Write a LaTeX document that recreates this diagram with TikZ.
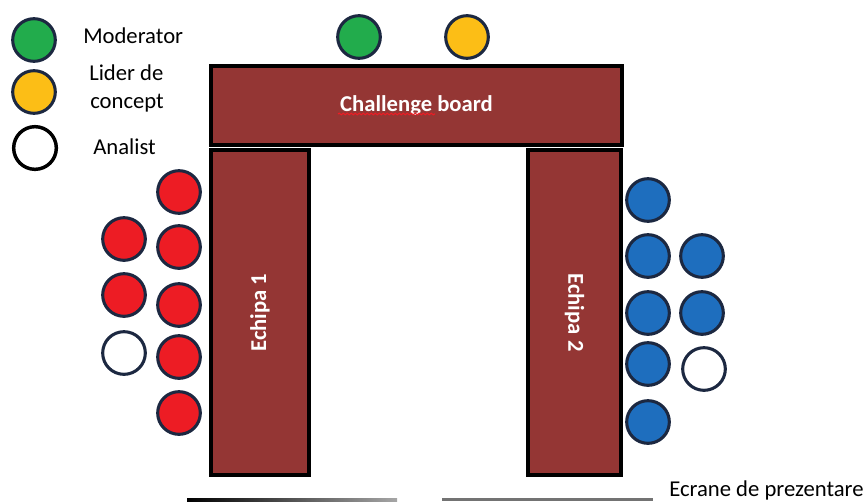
\documentclass[tikz,border=0pt]{standalone}
\usepackage{fontspec}
\setmainfont{Carlito}
\usetikzlibrary{decorations.pathmorphing}
\definecolor{boardred}{RGB}{148,54,52}
\definecolor{seatline}{RGB}{28,40,65}
\definecolor{seatgreen}{RGB}{34,172,76}
\definecolor{seatyellow}{RGB}{252,190,22}
\definecolor{seatred}{RGB}{237,28,36}
\definecolor{seatblue}{RGB}{30,110,190}

\begin{document}
\begin{tikzpicture}[x=0.75pt,y=-0.75pt,
    font=\fontsize{17}{20}\selectfont,
    seat/.style={circle,draw=seatline,line width=2.3pt,minimum size=32pt,inner sep=0pt},
    board/.style={rectangle,draw=black,line width=2.8pt,fill=boardred,inner sep=0pt,
      text=white,font=\fontsize{17}{20}\selectfont\bfseries},
    legendtext/.style={anchor=west,inner sep=0pt}]
        \useasboundingbox (0,0) rectangle (867,503);
        % legenda
        \node[seat,fill=seatgreen] (lmod) at (34,40) {};
        \node[seat,fill=seatyellow] (llid) at (34,92) {};
        \node[seat,draw=black,fill=white,line width=2.6pt] (lan) at (35,148) {};
        \node[legendtext] (tmod) at (83,36) {Moderator};
        \node[legendtext] (tlid1) at (89,73) {Lider de};
        \node[legendtext] (tlid2) at (90,103) {concept};
        \node[legendtext] (tan) at (93,147) {Analist};
        % mesele
        \node[board,minimum width=308.25pt,minimum height=59.25pt] (chboard) at (416.5,105.5) {Challenge board};
        \node[board,minimum width=243.75pt,minimum height=73.5pt,rotate=90] (team1) at (260,312.5) {Echipa 1};
        \node[board,minimum width=243.75pt,minimum height=69.75pt,rotate=-90] (team2) at (574.5,312.5) {Echipa 2};
        \draw[seatred,line width=0.8pt,decorate,decoration={snake,amplitude=0.6pt,segment length=3pt}]
          (338,114) -- (435,114);
        % moderator si lider
        \node[seat,fill=seatgreen] (mod) at (359,37) {};
        \node[seat,fill=seatyellow] (lid) at (467,37) {};
        % echipa 1
        \foreach \y [count=\i] in {192,247,305,357,413}
          \node[seat,fill=seatred] (ra\i) at (179,\y) {};
        \foreach \y [count=\i] in {239,295}
          \node[seat,fill=seatred] (rb\i) at (124,\y) {};
        \node[seat,fill=white] (an1) at (124,353) {};
        % echipa 2
        \foreach \y [count=\i] in {200,256,313,364,422}
          \node[seat,fill=seatblue] (ba\i) at (648,\y) {};
        \foreach \y [count=\i] in {256,313}
          \node[seat,fill=seatblue] (bb\i) at (702,\y) {};
        \node[seat,fill=white] (an2) at (704,369) {};
        % ecrane
        \shade[left color=black,right color=black!35] (187,498) rectangle (397,501);
        \fill[black!55] (442,498) rectangle (653,501);
        \node[legendtext] (ecr) at (669,490) {Ecrane de prezentare};
      \end{tikzpicture}
\end{document}
